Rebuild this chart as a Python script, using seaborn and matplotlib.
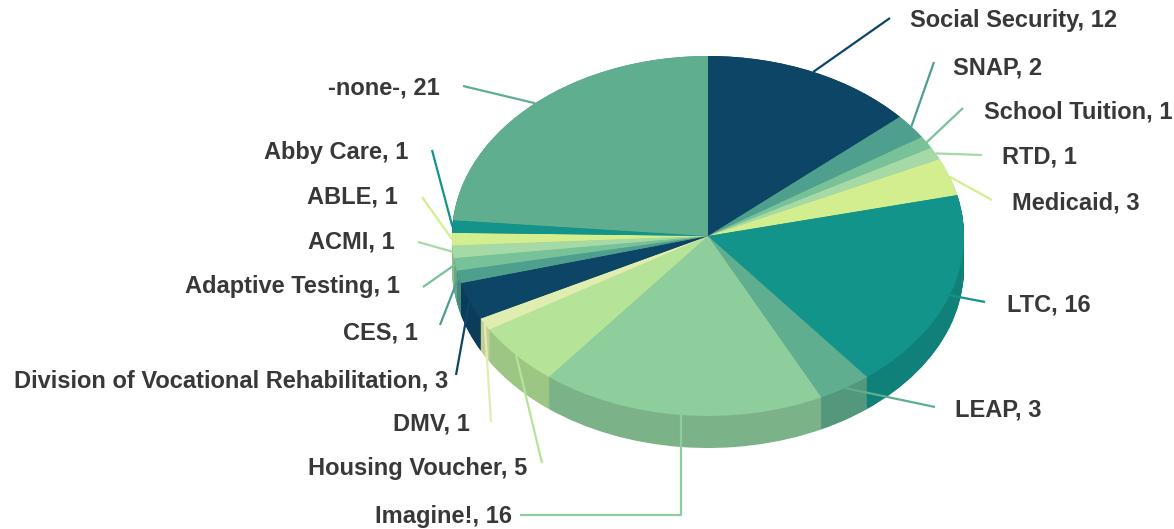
import numpy as np
import matplotlib
matplotlib.use("Agg")
import matplotlib.pyplot as plt
import seaborn as sns
from matplotlib.colors import to_rgb

# data (clockwise from 12 o'clock)
programs = ["Social Security", "SNAP", "School Tuition", "RTD", "Medicaid", "LTC",
            "LEAP", "Imagine!", "Housing Voucher", "DMV",
            "Division of Vocational Rehabilitation", "CES", "Adaptive Testing",
            "ACMI", "ABLE", "Abby Care", "-none-"]
counts = [12, 2, 1, 1, 3, 16, 3, 16, 5, 1, 3, 1, 1, 1, 1, 1, 21]

base_colors = ["#0d4566", "#4f9f8f", "#78c29a", "#a5d9a5", "#d3ee8f",
               "#12948a", "#5fae90", "#8ecd9c", "#b5e398", "#dfeeb0"]

# label layout in pixels: leader-line end point and text anchor
label_end = [(890, 18), (934, 62), (963, 108), (982, 155), (992, 200), (985, 302),
             (935, 407), (520, 515), (542, 463), (491, 422), (456, 375), (440, 325),
             (423, 287), (418, 242), (422, 197), (432, 150), (463, 86)]
label_text = [(910, 20), (953, 68), (984, 112), (1002, 157), (1012, 203), (1007, 305),
              (955, 410), (512, 517), (527, 468), (470, 424), (448, 381), (418, 333),
              (400, 287), (395, 242), (398, 197), (408, 153), (440, 88)]

sns.set_style("white")
plt.rcParams["font.family"] = ["Liberation Sans", "DejaVu Sans"]

W, H = 1174, 529
cx, cy, rx, ry = 708, 236, 256, 180
depth = 32 / ry

palette = sns.color_palette(base_colors, len(base_colors))
colors = [palette[i % len(base_colors)] for i in range(len(counts))]
wall = [tuple(np.array(to_rgb(c)) * 0.87) for c in colors]

fig = plt.figure(figsize=(W / 100, H / 100), dpi=100)
ax = fig.add_axes([0, 0, 1, 1])

# side wall: stacked layers of darker pies
n_layers = 45
for k, dz in enumerate(np.linspace(depth, 0.0, n_layers)):
    w, _ = ax.pie(counts, colors=wall, startangle=90, counterclock=False,
                  center=(0, -dz), radius=1, frame=True,
                  wedgeprops=dict(linewidth=0))
    for p in w:
        p.set_zorder(1 + k * 0.001)

# top face
w, _ = ax.pie(counts, colors=colors, startangle=90, counterclock=False,
              center=(0, 0), radius=1, frame=True,
              wedgeprops=dict(linewidth=0))
for p in w:
    p.set_zorder(2)


def px2data(px, py):
    return (px - cx) / rx, (cy - py) / ry


total = sum(counts)
cum = np.cumsum([0] + counts)
for i, (name, n) in enumerate(zip(programs, counts)):
    mid = 90 - (cum[i] + n / 2) / total * 360
    a = np.deg2rad(mid)
    sx, sy = np.cos(a), np.sin(a)
    ex, ey = px2data(*label_end[i])
    if name == "Imagine!":
        xs = [sx, sx, ex]
        ys = [sy, ey, ey]
    else:
        xs = [sx, ex]
        ys = [sy, ey]
    ax.plot(xs, ys, color=colors[i], lw=1.6, zorder=3, solid_capstyle="butt")
    tx, ty = px2data(*label_text[i])
    ax.text(tx, ty, f"{name}, {n}", ha="left" if tx > 0 else "right", va="center",
            fontsize=17, fontweight="bold", color="#383838", zorder=4)

ax.set_aspect("auto")
ax.set_xlim(-cx / rx, (W - cx) / rx)
ax.set_ylim(-(H - cy) / ry, cy / ry)
ax.axis("off")

fig.savefig("out.png", dpi=100, facecolor="white")
